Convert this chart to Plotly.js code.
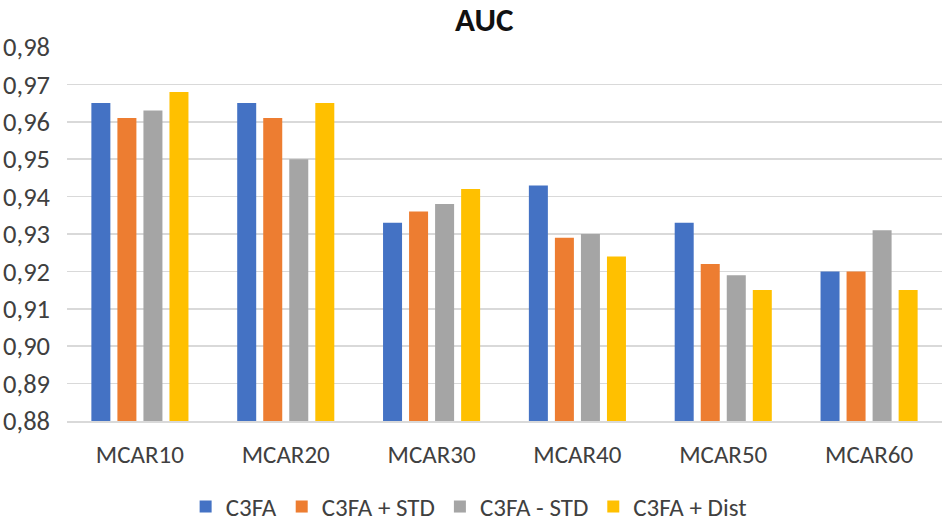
<!DOCTYPE html>
<html>
<head>
<meta charset="utf-8">
<script src="https://cdn.plot.ly/plotly-3.0.1.min.js"></script>
<style>html,body{margin:0;padding:0;background:#fff;}#chart{width:944px;height:523px;}</style>
</head>
<body>
<div id="chart"></div>
<script>
const categories = ["MCAR10", "MCAR20", "MCAR30", "MCAR40", "MCAR50", "MCAR60"];
const c3fa      = [0.965, 0.965, 0.933, 0.943, 0.933, 0.920];
const c3faStd   = [0.961, 0.961, 0.936, 0.929, 0.922, 0.920];
const c3faMinus = [0.963, 0.950, 0.938, 0.930, 0.919, 0.931];
const c3faDist  = [0.968, 0.965, 0.942, 0.924, 0.915, 0.915];
const seriesNames = ["C3FA", "C3FA + STD", "C3FA - STD", "C3FA + Dist"];
const yTicks = [0.88, 0.89, 0.90, 0.91, 0.92, 0.93, 0.94, 0.95, 0.96, 0.97, 0.98];

const colors = ["#4472C4", "#ED7D31", "#A5A5A5", "#FFC000"];
const allVals = [c3fa, c3faStd, c3faMinus, c3faDist];
const FONT = 'Carlito, "Open Sans", Arial, sans-serif';

const traces = allVals.map((v, i) => ({
  type: "bar",
  name: seriesNames[i],
  x: categories,
  y: v,
  marker: {color: colors[i]},
  hoverinfo: "x+y+name"
}));

const layout = {
  width: 944, height: 523,
  margin: {l: 67, r: 2, t: 47, b: 102},
  paper_bgcolor: "#fff", plot_bgcolor: "#fff",
  separators: ",.",
  font: {family: FONT, size: 25, color: "#404040"},
  title: {text: "<b>AUC</b>", x: 0.513, xanchor: "center", yref: "container", y: 0.962, yanchor: "middle",
          font: {family: FONT, size: 33, color: "#111"}},
  barmode: "group",
  bargap: 0.286,
  bargroupgap: 0.27,
  xaxis: {
    type: "category",
    showgrid: false,
    showline: true, linecolor: "#d9d9d9", linewidth: 1.5,
    ticks: "", ticklabelstandoff: 10,
    tickfont: {family: FONT, size: 25, color: "#404040"}
  },
  yaxis: {
    range: [0.88, 0.98],
    tickvals: yTicks,
    tickformat: ".2f",
    showgrid: true, gridcolor: "#d9d9d9", gridwidth: 1.5,
    zeroline: false, showline: false,
    ticks: "", ticklabelstandoff: 16,
    tickfont: {family: FONT, size: 26.5, color: "#404040"}
  },
  showlegend: true,
  legend: {
    orientation: "h",
    x: 0.459, xanchor: "center",
    yref: "container", y: 0.031, yanchor: "middle",
    font: {family: FONT, size: 25, color: "#404040"},
    itemwidth: 30,
    tracegroupgap: 0
  }
};

Plotly.newPlot("chart", traces, layout, {displayModeBar: false, staticPlot: true});
</script>
</body>
</html>
